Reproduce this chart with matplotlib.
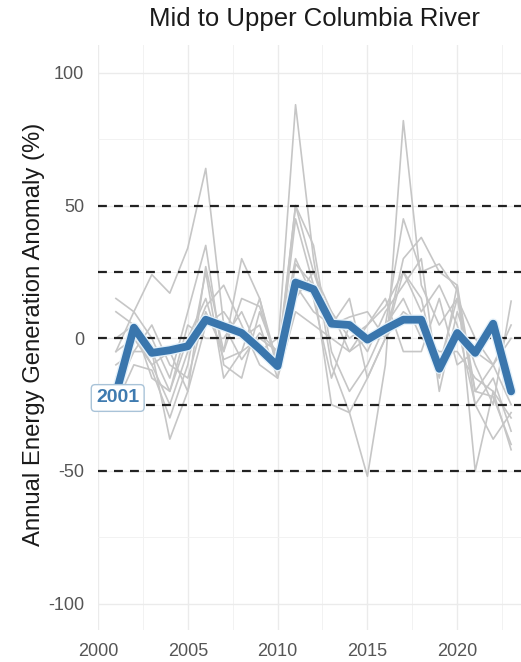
import matplotlib
matplotlib.use('Agg')
import matplotlib.pyplot as plt
import matplotlib.patheffects as pe
import numpy as np

plt.rcParams['font.family'] = ['Liberation Sans', 'DejaVu Sans']
plt.rcParams['axes.unicode_minus'] = False

years = np.arange(2001, 2024)

# regional mean anomaly (%)
mean_anom = [-21, 4, -5.5, -4.5, -3, 7, 4.5, 2, -4, -10.5, 21, 18.5, 5.5, 5, -0.5,
             3.5, 7, 7, -11.5, 2, -5.5, 5.5, -20]

# individual plants (%)
plants = [
    [-5, 10, 24, 17, 34, 64, 5, -8, 2, -5, 88, 30, -10, -28, -52, -10, 82, 20, 5, 15, -20, -10, 0],
    [15, 10, 0, -15, 10, 35, -10, -15, 10, -8, 50, 35, -5, -20, -10, 5, 45, 25, 28, 18, -25, -38, -28],
    [10, 5, -5, -38, -20, 27, -5, 30, 15, -12, 45, 20, -25, -28, -15, 0, 30, 38, 25, 20, -50, -20, -42],
    [-25, -10, -12, -30, -10, 25, -15, -5, 0, -5, 30, 15, -15, 5, -5, 10, 20, 30, -20, 10, -10, -25, 14],
    [-5, 0, -10, -25, -5, 12, 20, 5, -10, -15, 28, 20, 10, -5, 5, 12, 25, 10, 20, 5, -25, -15, -35],
    [0, 5, -15, -20, 0, 15, -8, -5, 15, -10, 20, 10, 5, 15, -15, 0, 10, 5, -10, 15, 0, -10, 5],
    [-15, 2, -10, -5, -20, 5, 10, 0, 5, -15, 10, 5, 0, -5, 0, 5, 15, 0, -5, -5, -15, -20, -30],
    [-10, -5, -5, -20, 5, 0, 0, 10, -5, 0, 15, 25, 10, 0, 5, 15, -5, -5, 15, -10, -5, -10, -25],
    [-20, -5, 5, -10, -15, 10, -5, 15, 12, -10, 50, 25, 5, 8, 10, 0, 25, 15, -15, 20, -20, -22, -40],
]

ref_levels = [-50, -25, 0, 25, 50]
label_year = 2001

fig = plt.figure(figsize=(5.21, 6.62), dpi=100)
ax = fig.add_axes([0.188, 0.048, 0.812, 0.884])

ax.set_xlim(2000, 2023.55)
ax.set_ylim(-110, 110.5)

ax.set_xticks([2000, 2005, 2010, 2015, 2020])
ax.set_xticks(np.arange(2002.5, 2024, 5), minor=True)
ax.set_yticks([-100, -50, 0, 50, 100])
ax.set_yticks([-75, -25, 25, 75], minor=True)
ax.grid(True, which='major', color='#ebebeb', lw=1.0)
ax.grid(True, which='minor', color='#f2f2f2', lw=0.7)
ax.set_axisbelow(True)
for s in ax.spines.values():
    s.set_visible(False)
ax.tick_params(which='both', length=0, labelsize=13, labelcolor='#555555')
ax.tick_params(axis='x', pad=9)
ax.tick_params(axis='y', pad=10)

for p in plants:
    ax.plot(years, p, color='#c6c6c6', lw=1.2, zorder=2)

for lv in ref_levels:
    ax.axhline(lv, color='#222222', lw=1.6, ls=(0, (4, 3.2)), zorder=3)

ax.plot(years, mean_anom, color='#3a76ad', lw=5.6, solid_joinstyle='round',
        solid_capstyle='round', zorder=4,
        path_effects=[pe.Stroke(linewidth=7.5, foreground='#e4f1fa'), pe.Normal()])

ax.text(label_year + 0.1, mean_anom[0] - 1.5, str(label_year), ha='center', va='center',
        fontsize=14, fontweight='bold', color='#3f7bb0', zorder=6, clip_on=False,
        bbox=dict(boxstyle='round,pad=0.25,rounding_size=0.2', fc='white',
                  ec='#a9c3d8', lw=1))

ax.set_ylabel('Annual Energy Generation Anomaly (%)', fontsize=17.2, color='#1a1a1a')
ax.yaxis.set_label_coords(-0.125, 0.505)
fig.text(0.603, 0.972, 'Mid to Upper Columbia River', ha='center', va='center',
         fontsize=18.5, color='#1a1a1a')

fig.savefig('out.png', dpi=100)
